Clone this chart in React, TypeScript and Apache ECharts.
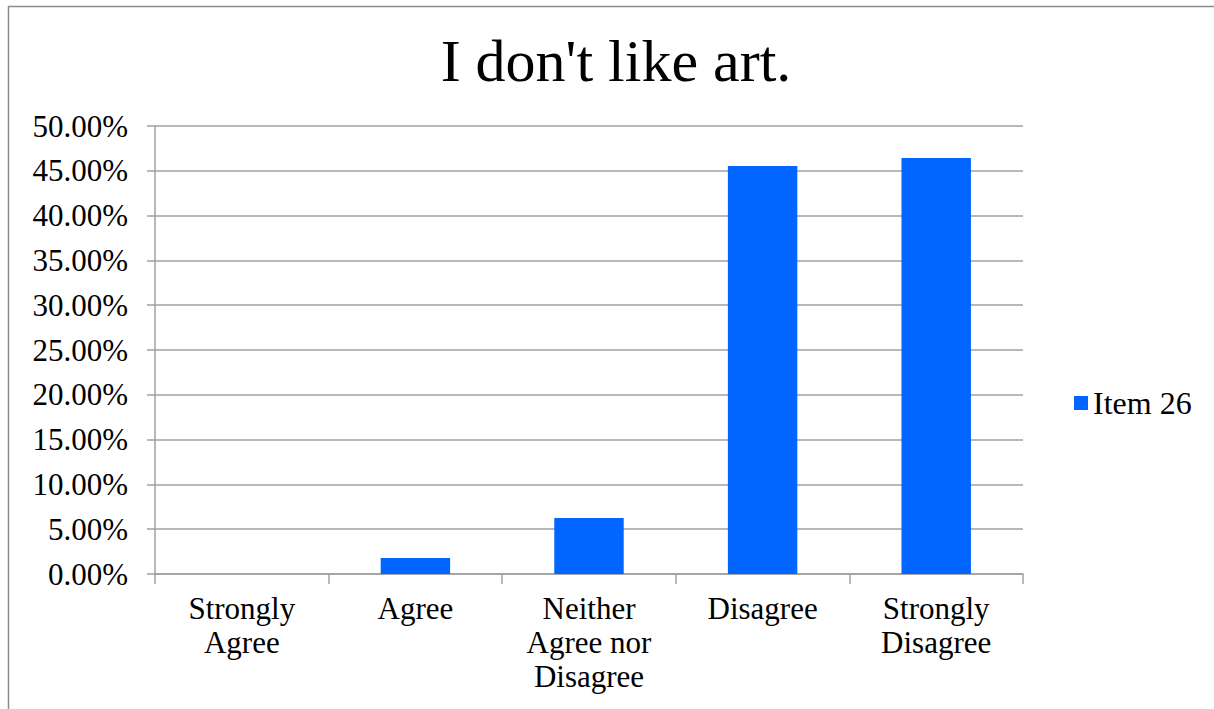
import React, { useEffect, useRef } from "react";
import * as echarts from "echarts";

const categories = ["Strongly\nAgree", "Agree", "Neither\nAgree nor\nDisagree", "Disagree", "Strongly\nDisagree"];
const seriesName = "Item 26";
const values = [0, 1.79, 6.25, 45.54, 46.43];
const titleText = "I don't like art.";

const FONT = "'Liberation Serif', 'Times New Roman', serif";
const GRAY = "#a0a0a0";

export default function App() {
  const ref = useRef<HTMLDivElement>(null);
  useEffect(() => {
    if (!ref.current) return;
    const chart = echarts.init(ref.current, undefined, { renderer: "svg" });
    chart.setOption({
      animation: false,
      backgroundColor: "#ffffff",
      title: {
        text: titleText,
        left: 616,
        textAlign: "center",
        top: 31,
        padding: 0,
        textStyle: { fontFamily: FONT, fontSize: 60, fontWeight: "normal", color: "#000" },
      },
      legend: {
        data: [seriesName],
        orient: "vertical",
        left: 1069,
        top: 382,
        itemWidth: 14,
        itemHeight: 14,
        icon: "rect",
        textStyle: { fontFamily: FONT, fontSize: 32, color: "#000", padding: [0, 0, 0, 0] },
      },
      grid: { left: 155, right: 191, top: 126, bottom: 135 },
      xAxis: {
        type: "category",
        data: categories,
        axisLine: { lineStyle: { color: GRAY, width: 1.5 } },
        axisTick: { show: true, length: 10, lineStyle: { color: GRAY, width: 1.5 } },
        axisLabel: {
          interval: 0,
          margin: 17,
          fontFamily: FONT,
          fontSize: 31,
          lineHeight: 34,
          color: "#000",
          align: "center",
        },
      },
      yAxis: {
        type: "value",
        min: 0,
        max: 50,
        interval: 5,
        axisLine: { show: true, lineStyle: { color: GRAY, width: 1.5 } },
        axisTick: { show: true, length: 8, lineStyle: { color: GRAY, width: 1.5 } },
        splitLine: { lineStyle: { color: GRAY, width: 1.5 } },
        axisLabel: {
          margin: 27,
          fontFamily: FONT,
          fontSize: 31,
          color: "#000",
          formatter: (v: number) => v.toFixed(2) + "%",
        },
      },
      series: [
        {
          name: seriesName,
          type: "bar",
          data: values,
          barWidth: "40%",
          itemStyle: { color: "#0066ff" },
        },
      ],
      graphic: [
        { type: "line", shape: { x1: 8.5, y1: 6, x2: 8.5, y2: 709 }, style: { stroke: "#8c8c8c", lineWidth: 1.5 } },
        { type: "line", shape: { x1: 8, y1: 6.5, x2: 1214, y2: 6.5 }, style: { stroke: "#8c8c8c", lineWidth: 1.5 } },
      ],
    });
    return () => chart.dispose();
  }, []);
  return (
    <div
      ref={ref}
      style={{ position: "absolute", left: 0, top: 0, width: 1214, height: 709 }}
    />
  );
}
